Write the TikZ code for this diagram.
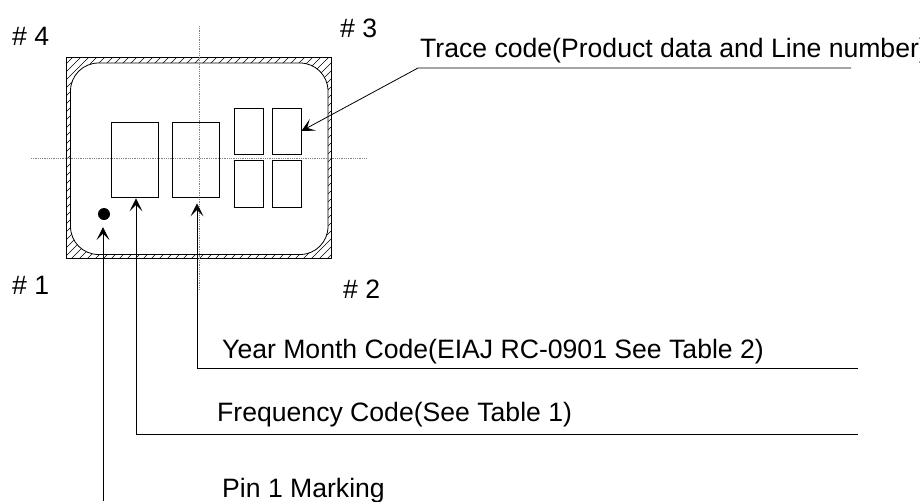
\documentclass[tikz,border=0pt]{standalone}
\usepackage{fontspec}
\setmainfont{Liberation Sans}
\usetikzlibrary{arrows.meta}
\begin{document}
\begin{tikzpicture}[x=1pt,y=-1pt,
  lbl/.style={inner sep=0pt,anchor=base west,font=\fontsize{26.6}{30}\selectfont},
  pad/.style={draw,line width=0.8pt,inner sep=0pt,minimum width=#1},
  arr/.style={line width=0.8pt,-{Stealth[length=13pt,width=13pt,inset=6.5pt]}},
  cross/.style={gray,line width=0.8pt,densely dotted},
  hatch/.style={line width=0.6pt}]
\useasboundingbox (0,0) rectangle (920,501);
\clip (0,0) rectangle (920,501);
% hatched frame
\begin{scope}
  \clip (66,57) rectangle (331,258);
  \foreach \c in {-220,-212,...,340}
    \draw[hatch] (\c,262) -- (\c+210,52);
\end{scope}
\fill[white,draw=black,line width=0.8pt,rounded corners=28pt] (70.5,63) rectangle (328,254.5);
\draw[line width=0.8pt] (66,57) rectangle (331,258);
% crosshair
\draw[cross] (199,26) -- (199,290);
\draw[cross] (31,158) -- (367,158);
% marking pads
\node[pad=47pt,minimum height=75pt] (r1) at (134.5,159.5) {};
\node[pad=47pt,minimum height=75pt] (r2) at (195.5,159.5) {};
\node[pad=29pt,minimum height=46pt] (s11) at (248.5,131) {};
\node[pad=29pt,minimum height=46pt] (s12) at (286.5,131) {};
\node[pad=29pt,minimum height=47pt] (s21) at (248.5,183.5) {};
\node[pad=29pt,minimum height=47pt] (s22) at (286.5,183.5) {};
\node[circle,fill=black,inner sep=0pt,minimum size=12pt] (dot) at (104,214) {};
% corner labels
\node[lbl] (p4) at (12,45) {\# 4};
\node[lbl] (p3) at (340,37) {\# 3};
\node[lbl] (p1) at (12,294) {\# 1};
\node[lbl] (p2) at (343,298) {\# 2};
% texts
\node[lbl] (trace) at (420,57) {Trace code(Product data and Line number)};
\node[lbl] (ym) at (222,358) {Year Month Code(EIAJ RC-0901 See Table 2)};
\node[lbl] (freq) at (217,421) {Frequency Code(See Table 1)};
\node[lbl] (pin) at (222,497) {Pin 1 Marking};
% connectors
\coordinate (trEnd) at (851,68);
\coordinate (trKnee) at (418,68);
\draw[arr] (trEnd) -- (trKnee) -- (s12.east);
\coordinate (ymEnd) at (858,368);
\draw[arr] (ymEnd) -| ([xshift=1.5pt,yshift=-6pt]r2.south);
\coordinate (freqEnd) at (858,434);
\draw[arr] (freqEnd) -| ([xshift=1.5pt,yshift=-1pt]r1.south);
\coordinate (pinStart) at (103,501);
\draw[arr] (pinStart) -- ([xshift=-1pt,yshift=-7pt]dot.south);
\end{tikzpicture}
\end{document}
